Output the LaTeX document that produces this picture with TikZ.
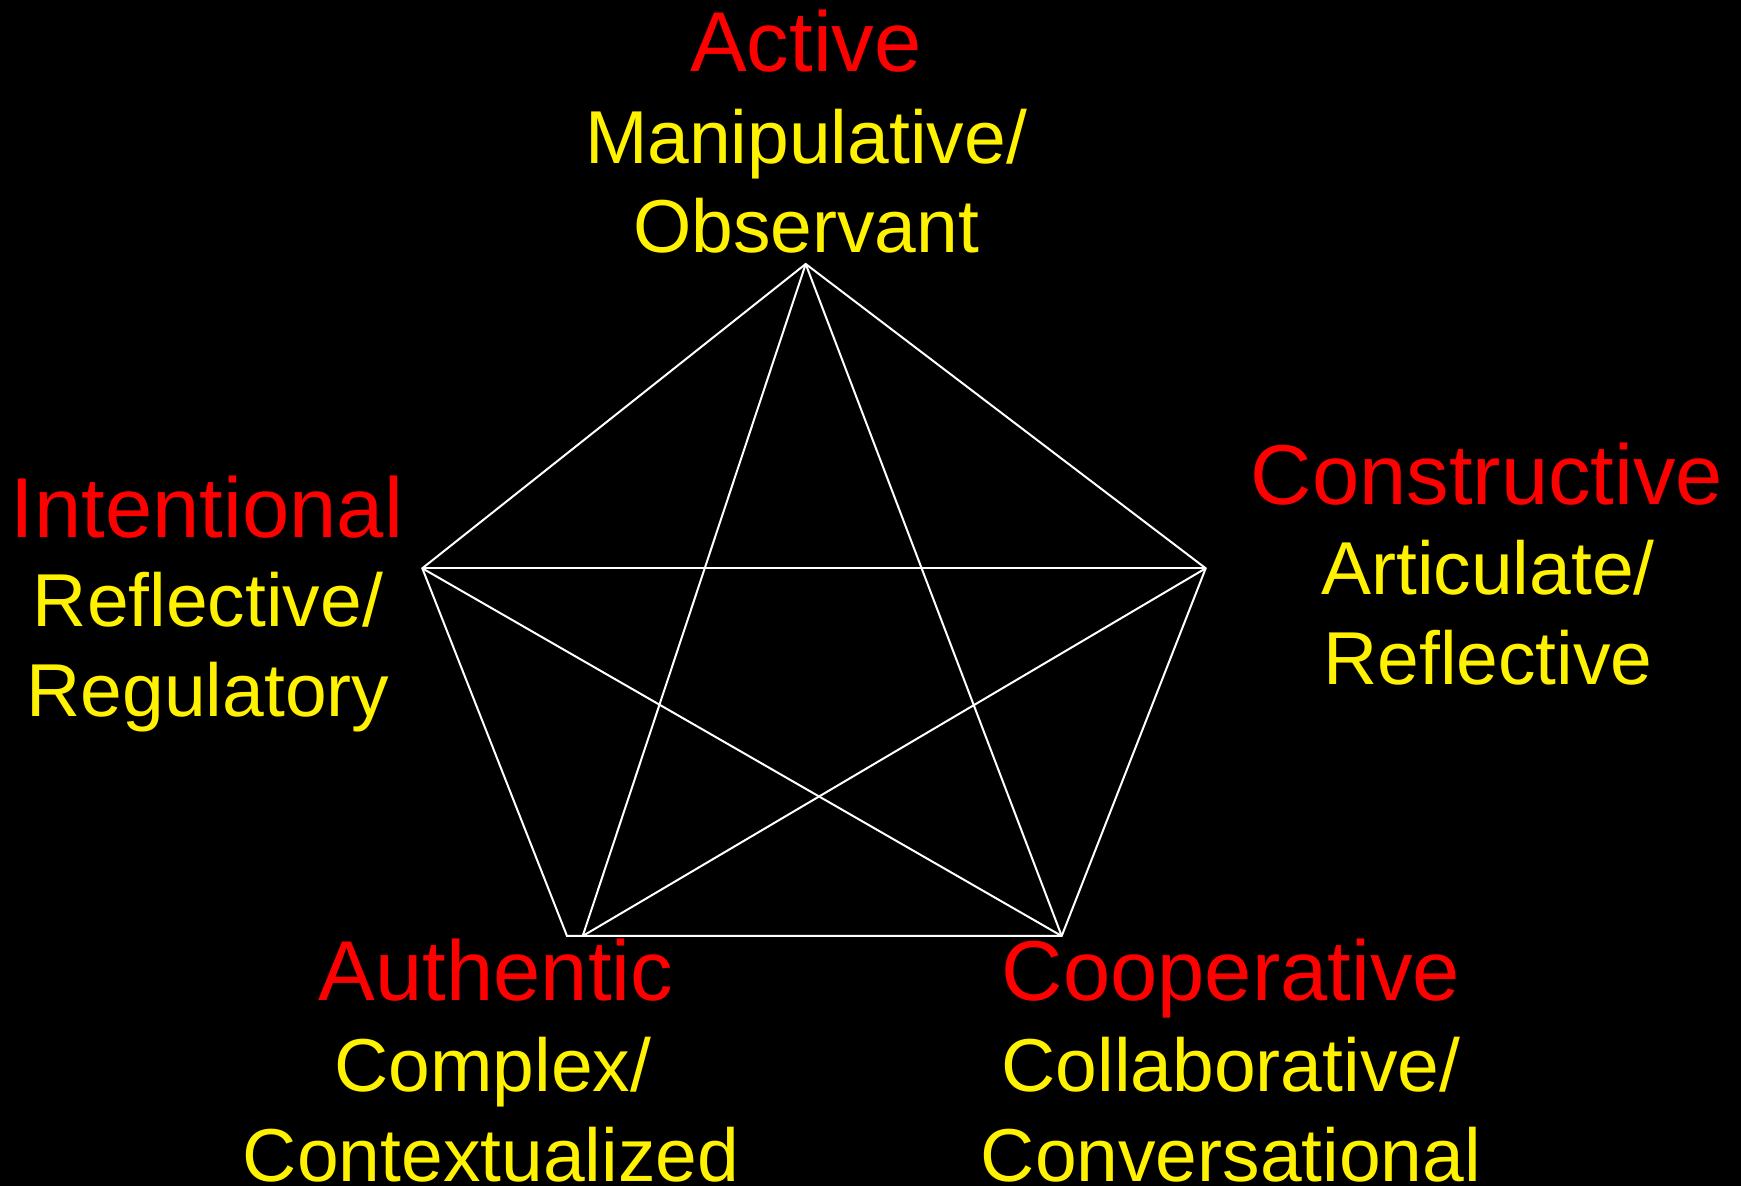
\documentclass[tikz,border=0pt]{standalone}
\usepackage{fontspec}
\setmainfont{Liberation Sans}
\begin{document}
\begin{tikzpicture}[x=0.5pt,y=-0.5pt,
  redlbl/.style={text=red,font=\fontsize{42.5pt}{48pt}\selectfont,anchor=base,inner sep=0pt},
  yellbl/.style={text=yellow,font=\fontsize{37.5pt}{42pt}\selectfont,anchor=base,inner sep=0pt},
  edge/.style={draw=white,line width=1pt,line join=miter}]
\fill[black] (0,0) rectangle (1741,1186);
\useasboundingbox (0,0) rectangle (1741,1186);
% vertices
\coordinate (T) at (805.7,264);
\coordinate (R) at (1205.7,568.3);
\coordinate (L) at (422.3,568.3);
\coordinate (BL) at (567,936);
\coordinate (BLd) at (582.7,936);
\coordinate (BR) at (1061.7,936);
% pentagon
\draw[edge] (T) -- (R) -- (BR) -- (BL) -- (L) -- cycle;
% diagonals
\draw[edge] (T) -- (BLd);
\draw[edge] (T) -- (BR);
\draw[edge] (L) -- (R);
\draw[edge] (L) -- (BR);
\draw[edge] (R) -- (BLd);
% labels
\node[redlbl] (act) at (806,71.7) {Active};
\node[yellbl] (act1) at (806,163.3) {Manipulative/};
\node[yellbl] (act2) at (806,253) {Observant};
\node[redlbl] (int) at (207,537.3) {Intentional};
\node[yellbl] (int1) at (208,626.7) {Reflective/};
\node[yellbl] (int2) at (208,716.7) {Regulatory};
\node[redlbl] (con) at (1487,505) {Constructive};
\node[yellbl] (con1) at (1488,595) {Articulate/};
\node[yellbl] (con2) at (1488,685) {Reflective};
\node[redlbl] (aut) at (496,1000.5) {Authentic};
\node[yellbl] (aut1) at (493,1091.7) {Complex/};
\node[yellbl] (aut2) at (491,1181.7) {Contextualized};
\node[redlbl] (coo) at (1231,1000.5) {Cooperative};
\node[yellbl] (coo1) at (1231,1091.7) {Collaborative/};
\node[yellbl] (coo2) at (1231,1181.7) {Conversational};
\end{tikzpicture}
\end{document}
